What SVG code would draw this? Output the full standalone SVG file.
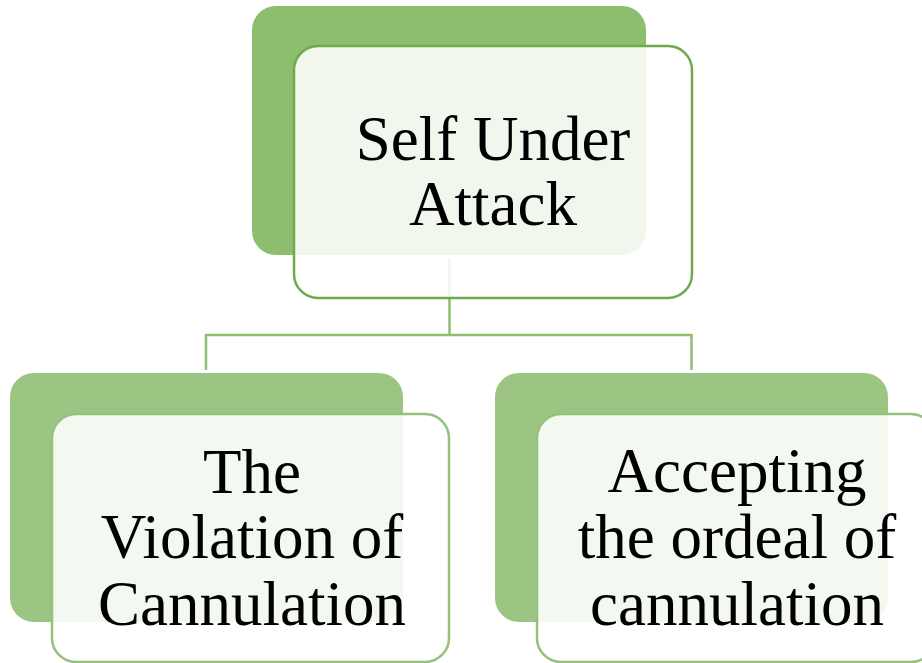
<svg xmlns="http://www.w3.org/2000/svg" width="922" height="663" viewBox="0 0 922 663">
<style>
.back1{fill:#8cbe6e}
.back2{fill:#9cc583}
.front{fill:#ffffff;fill-opacity:0.88;stroke-width:2.5}
.f1{stroke:#6fa94c}
.f2{stroke:#94c27a}
.conn{stroke:#8dbf70;stroke-width:2.5;fill:none}
text{font-family:"Liberation Serif","Times New Roman",serif;font-size:63px;fill:#000;text-anchor:middle}
</style>
<rect width="922" height="663" fill="#ffffff"/>
<g id="node-top-back"><rect class="back1" x="252" y="6" width="394" height="249" rx="24"/></g>
<g id="connectors">
<path class="conn" d="M449.5 258 V335 M206 335 H691.5 M206 334 V370 M691.5 334 V370"/>
</g>
<g id="node-top">
<rect class="front f1" x="294" y="46" width="398" height="252" rx="24"/>
<text x="493" y="160">Self Under</text>
<text x="493" y="225">Attack</text>
</g>
<g id="node-left">
<rect class="back2" x="10" y="373" width="393" height="249" rx="24"/>
<rect class="front f2" x="52" y="414" width="397" height="248" rx="24"/>
<text x="252" y="493">The</text>
<text x="252" y="558">Violation of</text>
<text x="252" y="625">Cannulation</text>
</g>
<g id="node-right">
<rect class="back2" x="495" y="373" width="393" height="249" rx="24"/>
<rect class="front f2" x="537" y="414" width="398" height="248" rx="24"/>
<text x="737" y="492">Accepting</text>
<text x="737" y="558">the ordeal of</text>
<text x="737" y="625">cannulation</text>
</g>
</svg>
